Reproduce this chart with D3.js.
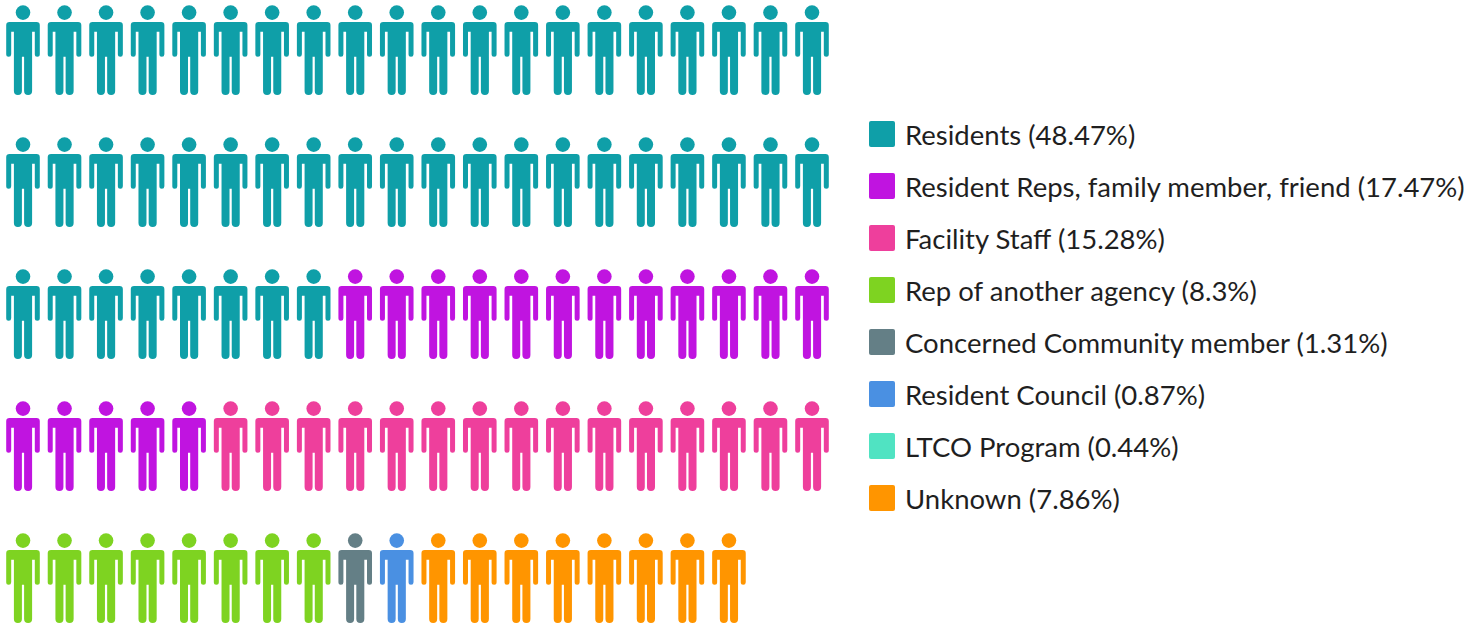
<!DOCTYPE html>
<meta charset="utf-8">
<style>
html, body { margin: 0; background: #fff; }
svg { display: block; }
.legendLabel { font: 27.5px Lato; fill: #1f1f1f; }
</style>
<body>
<script src="https://d3js.org/d3.v7.min.js"></script>
<script>
const categories = ["Residents", "Resident Reps, family member, friend", "Facility Staff", "Rep of another agency",
    "Concerned Community member", "Resident Council", "LTCO Program", "Unknown"];
const percents = [48.47, 17.47, 15.28, 8.3, 1.31, 0.87, 0.44, 7.86];
const iconCounts = [48, 17, 15, 8, 1, 1, 0, 8];
const colors = ["#0f9fa8", "#c014e0", "#ee3f9c", "#7ed321", "#647f86", "#4a90e2", "#50e3c2", "#ff9500"];

const width = 1484, height = 627, perRow = 20;

const svg = d3.select("body").append("svg")
    .attr("width", width)
    .attr("height", height);

// one entry per person icon, in reading order
const icons = categories.flatMap((c, i) => d3.range(iconCounts[i]).map(() => c));

const color = d3.scaleOrdinal().domain(categories).range(colors);
const x = d3.scaleLinear().domain([0, perRow - 1]).range([23, 812]);
const y = d3.scaleLinear().domain([0, 4]).range([5.3, 533.3]);
const legendY = d3.scaleLinear().domain([0, categories.length - 1]).range([134, 498]);

// person shape, origin at the top of the head on the centre line
const person = "M-13.5 16.7H13.5A3.3 3.3 0 0 1 16.8 20V49A2.5 2.5 0 0 1 11.8 49V26.4H9.1V85.7A4 4 0 0 1 1.1 85.7V51.4H-1.1V85.7A4 4 0 0 1 -9.1 85.7V26.4H-11.8V49A2.5 2.5 0 0 1 -16.8 49V20A3.3 3.3 0 0 1 -13.5 16.7Z";

const g = svg.append("g")
    .selectAll("g")
    .data(icons)
    .join("g")
        .attr("transform", (d, i) => `translate(${x(i % perRow)},${y(Math.floor(i / perRow))})`)
        .attr("fill", d => color(d));

g.append("circle")
    .attr("cy", 7.3)
    .attr("r", 7.3);

g.append("path")
    .attr("d", person);

const legend = svg.append("g")
    .selectAll("g")
    .data(categories)
    .join("g")
        .attr("transform", (d, i) => `translate(869,${legendY(i)})`);

legend.append("rect")
    .attr("y", -13)
    .attr("width", 26)
    .attr("height", 26)
    .attr("rx", 2)
    .attr("fill", d => color(d));

legend.append("text")
    .attr("class", "legendLabel")
    .attr("x", 36)
    .attr("y", 1)
    .attr("dy", "0.35em")
    .text((d, i) => `${d} (${percents[i]}%)`);
</script>
</body>
